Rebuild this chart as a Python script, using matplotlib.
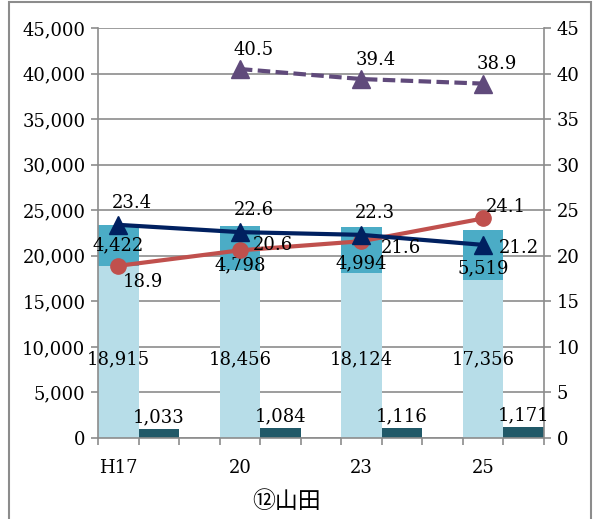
import numpy as np
import matplotlib
matplotlib.use("Agg")
import matplotlib.pyplot as plt
from matplotlib.patches import Rectangle

# 年度
years = ['H17', '20', '23', '25']

# 棒グラフ（左軸）
lower = [18915, 18456, 18124, 17356]
upper = [4422, 4798, 4994, 5519]
small = [1033, 1084, 1116, 1171]

# 折れ線グラフ（右軸）
navy_vals = [23.4, 22.6, 22.3, 21.2]
red_vals = [18.9, 20.6, 21.6, 24.1]
purple_vals = [np.nan, 40.5, 39.4, 38.9]

plt.rcParams['font.family'] = ['DejaVu Serif']
fs = 13

fig = plt.figure(figsize=(5.99, 5.19), dpi=100)
ax = fig.add_axes([0.1636, 0.156, 0.908 - 0.1636, 0.946 - 0.156])

x = np.arange(len(years)) * 3
xs = x + 1

ax.bar(x, lower, width=1, color='#B7DDE8', zorder=2)
ax.bar(x, upper, bottom=lower, width=1, color='#4BACC6', zorder=2)
ax.bar(xs, small, width=1, color='#215968', zorder=2)

ax.set_xlim(-0.5, 10.5)
ax.set_ylim(0, 45000)
ax.set_yticks(np.arange(0, 45001, 5000))
ax.set_yticklabels([f'{v:,}' for v in range(0, 45001, 5000)], fontsize=fs)
ax.yaxis.grid(True, color='#8c8c8c', linewidth=1.2, zorder=0)
ax.set_axisbelow(True)

ax.set_xticks(np.arange(-0.5, 11, 1))
ax.set_xticklabels([])
ax.set_xticks(x, minor=True)
ax.set_xticklabels(years, minor=True, fontsize=fs)
ax.tick_params(axis='x', which='major', length=5, color='#8c8c8c', width=1.2)
ax.tick_params(axis='x', which='minor', length=0, pad=15)
ax.tick_params(axis='y', length=5, color='#8c8c8c', width=1.2, pad=4)

for s in ['left', 'bottom', 'right']:
    ax.spines[s].set_color('#8c8c8c')
    ax.spines[s].set_linewidth(1.2)
ax.spines['top'].set_visible(False)

# 棒のラベル
for i in range(len(years)):
    ax.text(x[i], 8600, f'{lower[i]:,}', ha='center', va='center', fontsize=fs, zorder=6)
    ax.text(xs[i], small[i] + 300, f'{small[i]:,}', ha='center', va='bottom', fontsize=fs, zorder=6)
up_y = [lower[0] + upper[0] / 2, lower[1] + 500, lower[2] + 1000, lower[3] + 1300]
for i in range(len(years)):
    ax.text(x[i], up_y[i], f'{upper[i]:,}', ha='center', va='center', fontsize=fs, zorder=6)

ax2 = ax.twinx()
ax2.set_ylim(0, 45)
ax2.set_yticks(np.arange(0, 46, 5))
ax2.set_yticklabels([str(v) for v in range(0, 46, 5)], fontsize=fs)
ax2.tick_params(axis='y', length=5, color='#8c8c8c', width=1.2, pad=4)
for s in ['left', 'bottom', 'right', 'top']:
    ax2.spines[s].set_visible(False)

ax2.plot(x, red_vals, color='#C0504D', linewidth=3, marker='o', markersize=11, zorder=3)
ax2.plot(x, navy_vals, color='#002060', linewidth=3, marker='^', markersize=13, zorder=4)
ax2.plot(x, purple_vals, color='#604A7B', linewidth=3, linestyle=(0, (3, 1.3)),
         marker='^', markersize=13, zorder=4)

def lab(xv, yv, txt, dx, dy, ha='center'):
    ax2.annotate(txt, (xv, yv), xytext=(dx, dy), textcoords='offset points',
                 ha=ha, va='center', fontsize=fs, zorder=6)

for i in range(len(years)):
    if i < 3:
        lab(x[i], navy_vals[i], f'{navy_vals[i]}', 10, 16)
    else:
        lab(x[i], navy_vals[i], f'{navy_vals[i]}', 11, -2, ha='left')

red_off = [(18, -12), (9, 4), (14, -5), (2, 8)]
for i in range(len(years)):
    dx, dy = red_off[i]
    ha = 'center' if i == 0 else 'left'
    lab(x[i], red_vals[i], f'{red_vals[i]}', dx, dy, ha=ha)

for i in range(1, len(years)):
    lab(x[i], purple_vals[i], f'{purple_vals[i]}', 10, 14)

fig.text(0.479, 0.033, '⑫山田', ha='center', va='center', fontsize=16.5,
         family=['Noto Sans CJK JP', 'DejaVu Sans'])

fig.patches.append(Rectangle((9 / 599, -0.05), (591 - 9) / 599, 1.05 - 2 / 519,
                             transform=fig.transFigure, fill=False,
                             edgecolor='#8c8c8c', linewidth=1.5))

fig.savefig('out.png', dpi=100)
